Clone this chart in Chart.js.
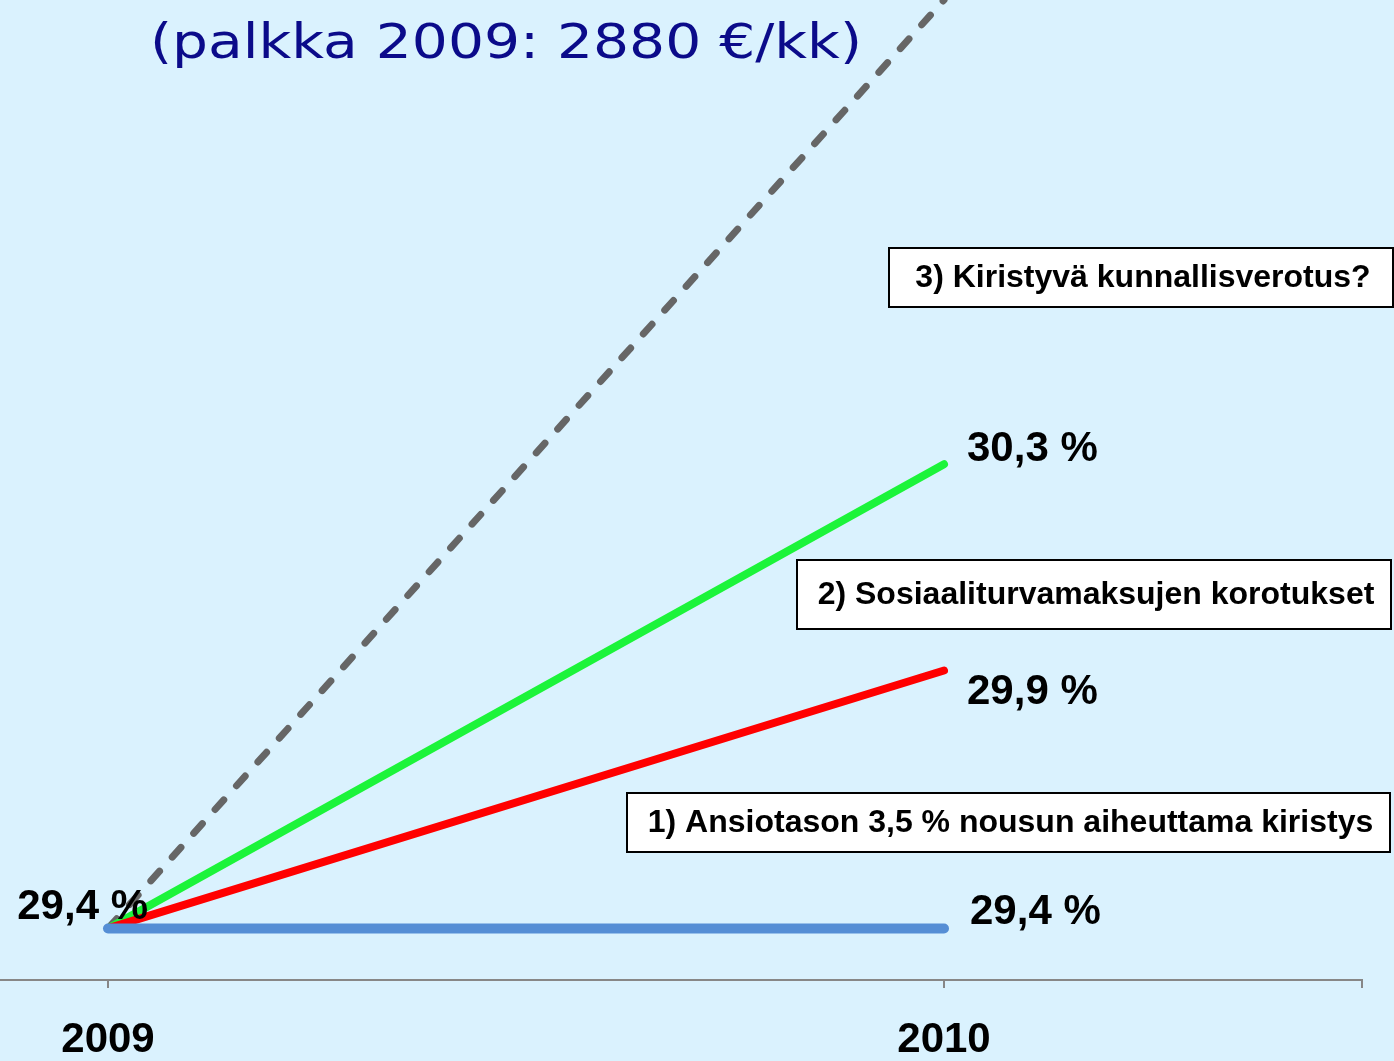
<!DOCTYPE html>
<html>
<head>
<meta charset="utf-8">
<script src="https://cdn.jsdelivr.net/npm/chart.js@4"></script>
<style>
  html, body { margin: 0; padding: 0; background: #DAF2FE; }
  #wrap { width: 1394px; height: 1061px; }
</style>
</head>
<body>
<div id="wrap"><canvas id="vero-chart"></canvas></div>
<script>
// values
const years = [2009, 2010];
const baseValues = [29.4, 29.4];        // blue: lähtötaso
const ansiotasoValues = [29.4, 29.9];   // 1) ansiotason nousu
const sotuValues = [29.4, 30.3];        // 2) sosiaaliturvamaksut
const kunnallisValues = [29.4, 31.2];   // 3) kunnallisverotus (dashed)

const titleText = '(palkka 2009: 2880 €/kk)';
const boxTexts = [
    '1) Ansiotason 3,5 % nousun aiheuttama kiristys',
    '2) Sosiaaliturvamaksujen korotukset',
    '3) Kiristyvä kunnallisverotus?'
];

const pct = v => v.toFixed(1).replace('.', ',') + ' %';
const toPoints = vals => years.map((y, i) => ({ x: y, y: vals[i] }));

const annotations = {
    id: 'annotations',
    beforeDraw(chart) {
        const c = chart.ctx;
        c.save();
        c.fillStyle = '#DAF2FE';
        c.fillRect(0, 0, chart.width, chart.height);
        c.restore();
    },
    afterDatasetsDraw(chart) {
        const c = chart.ctx;
        const xs = chart.scales.x, ys = chart.scales.y;
        c.save();

        // title
        c.font = '48px "DejaVu Sans"';
        c.fillStyle = '#0B0B8A';
        c.textBaseline = 'alphabetic';
        c.textAlign = 'left';
        c.save();
        c.translate(150, 58);
        c.scale(1.18, 1);
        c.fillText(titleText, 0, 0);
        c.restore();

        // value labels
        c.font = 'bold 42px "Liberation Sans", Arial, sans-serif';
        c.fillStyle = '#000';
        const x0 = xs.getPixelForValue(years[0]);
        const x1 = xs.getPixelForValue(years[1]);
        c.textAlign = 'right';
        c.fillText(pct(baseValues[0]), x0 + 40, ys.getPixelForValue(baseValues[0]) - 9);
        c.textAlign = 'left';
        c.fillText(pct(sotuValues[1]), x1 + 23, ys.getPixelForValue(sotuValues[1]) - 3);
        c.fillText(pct(ansiotasoValues[1]), x1 + 23, ys.getPixelForValue(ansiotasoValues[1]) + 33);
        c.fillText(pct(baseValues[1]), x1 + 26, ys.getPixelForValue(baseValues[1]) - 4);

        // boxes
        const boxes = [
            { t: boxTexts[0], l: 627, top: 793, r: 1390, b: 852 },
            { t: boxTexts[1], l: 797, top: 560, r: 1391, b: 629 },
            { t: boxTexts[2], l: 889, top: 248, r: 1393, b: 307 }
        ];
        c.font = 'bold 32px "Liberation Sans", Arial, sans-serif';
        c.textAlign = 'center';
        c.textBaseline = 'middle';
        boxes.forEach(bx => {
            c.fillStyle = '#fff';
            c.fillRect(bx.l, bx.top, bx.r - bx.l, bx.b - bx.top);
            c.strokeStyle = '#000';
            c.lineWidth = 2;
            c.strokeRect(bx.l, bx.top, bx.r - bx.l, bx.b - bx.top);
            c.fillStyle = '#000';
            c.fillText(bx.t, (bx.l + bx.r) / 2 + 2, (bx.top + bx.b) / 2 + 1);
        });
        c.restore();
    }
};

document.addEventListener('DOMContentLoaded', () => {
    const ctx = document.getElementById('vero-chart').getContext('2d');
    new Chart(ctx, {
        type: 'line',
        data: {
            datasets: [{
                label: 'Lähtötaso',
                data: toPoints(baseValues),
                borderColor: '#558ED5',
                borderWidth: 10,
                borderCapStyle: 'round'
            }, {
                label: '1) Ansiotason nousu',
                data: toPoints(ansiotasoValues),
                borderColor: '#FF0000',
                borderWidth: 8,
                borderCapStyle: 'round'
            }, {
                label: '2) Sosiaaliturvamaksut',
                data: toPoints(sotuValues),
                borderColor: '#1CF43A',
                borderWidth: 8,
                borderCapStyle: 'round'
            }, {
                label: '3) Kunnallisverotus',
                data: toPoints(kunnallisValues),
                borderColor: '#666666',
                borderWidth: 7,
                borderCapStyle: 'round',
                borderDash: [13, 19]
            }]
        },
        options: {
            responsive: true,
            maintainAspectRatio: false,
            animation: false,
            layout: { padding: { left: 0, right: 32, top: 0, bottom: -31 } },
            elements: { point: { radius: 0 }, line: { tension: 0 } },
            plugins: { legend: { display: false }, tooltip: { enabled: false } },
            scales: {
                x: {
                    type: 'linear',
                    min: 2008.8708,
                    max: 2010.5,
                    afterBuildTicks: axis => {
                        axis.ticks = [...years, 2010.5].map(v => ({ value: v }));
                    },
                    grid: {
                        drawOnChartArea: false,
                        drawTicks: true,
                        tickLength: 8,
                        color: '#878787',
                        lineWidth: 2
                    },
                    border: { display: true, color: '#878787', width: 2 },
                    ticks: {
                        autoSkip: false,
                        maxRotation: 0,
                        padding: 31,
                        color: '#000',
                        font: { family: '"Liberation Sans", Arial, sans-serif', size: 42, weight: 'bold', lineHeight: 1 },
                        callback: v => years.includes(v) ? String(v) : ''
                    }
                },
                y: {
                    display: false,
                    min: 29.3,
                    max: 31.2
                }
            }
        },
        plugins: [annotations]
    });
});
</script>
</body>
</html>
